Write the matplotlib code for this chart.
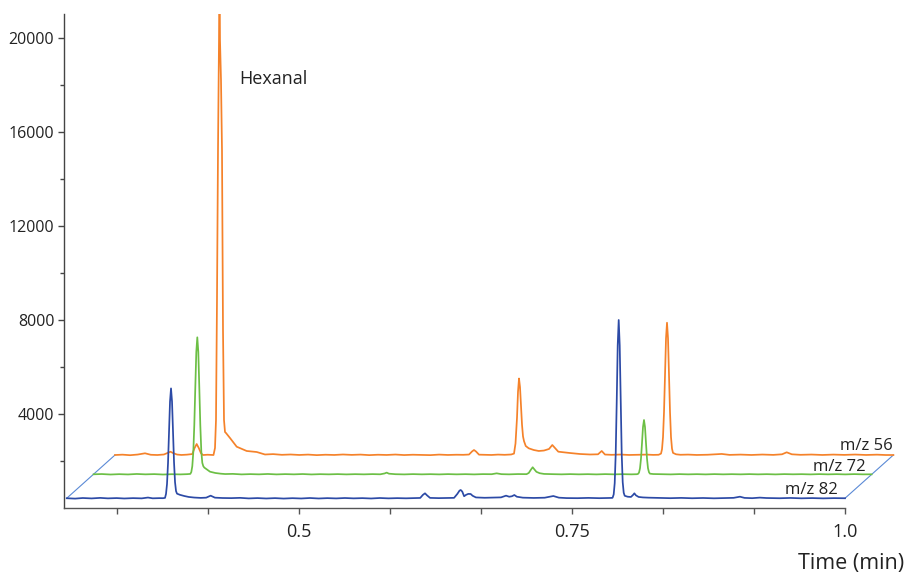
import matplotlib
matplotlib.use("Agg")
import matplotlib.pyplot as plt
import numpy as np

plt.rcParams['font.family'] = ['Open Sans', 'DejaVu Sans']

# ---------------- data (time in min, intensity in counts) ----------------
blue_points = [  # m/z 82
    (0.2873, 415), (0.2950, 400), (0.3020, 425), (0.3100, 408), (0.3180, 430), (0.3250, 410),
    (0.3330, 422), (0.3400, 405), (0.3480, 420), (0.3560, 410), (0.3617, 445), (0.3660, 412),
    (0.3720, 420), (0.3755, 418),
    (0.37730, 430), (0.37822, 600), (0.37913, 1020), (0.38005, 1910), (0.38097, 3220),
    (0.38188, 4530), (0.38280, 5090), (0.38372, 4530), (0.38463, 3220), (0.38555, 1950),
    (0.38647, 1100), (0.38738, 720), (0.38830, 610), (0.3910, 560), (0.3950, 510),
    (0.3990, 470), (0.4040, 445), (0.4100, 430), (0.4150, 440), (0.4191, 525), (0.4230, 440),
    (0.4300, 425), (0.4380, 420), (0.4460, 432), (0.4540, 408), (0.4620, 422), (0.4700, 405),
    (0.4780, 420), (0.4860, 402), (0.4940, 418), (0.5020, 405), (0.5100, 425), (0.5180, 405),
    (0.5260, 420), (0.5340, 408), (0.5420, 425), (0.5500, 410), (0.5580, 420), (0.5660, 405),
    (0.5740, 425), (0.5820, 410), (0.5900, 420), (0.5980, 412), (0.6060, 422), (0.6110, 428),
    (0.6135, 560), (0.6154, 625), (0.6172, 540), (0.6200, 430), (0.6280, 420), (0.6360, 428),
    (0.6420, 432), (0.6450, 600), (0.6470, 740), (0.6481, 766), (0.6495, 700), (0.6512, 500),
    (0.6530, 560), (0.6550, 600), (0.6572, 596), (0.6590, 520), (0.6620, 450), (0.6700, 435),
    (0.6780, 442), (0.6850, 452), (0.6896, 525), (0.6925, 480), (0.6950, 500), (0.6972, 553),
    (0.6995, 480), (0.7050, 440), (0.7150, 428), (0.7250, 438), (0.7329, 510), (0.7380, 440),
    (0.7450, 422), (0.7550, 418), (0.7650, 430), (0.7750, 418), (0.7850, 425), (0.7870, 430),
    (0.78728, 450), (0.78819, 580), (0.78911, 1060), (0.79002, 2300), (0.79094, 4500),
    (0.79185, 6920), (0.79277, 8000), (0.79369, 6920), (0.79460, 4500), (0.79552, 2300),
    (0.79643, 1100), (0.79735, 650), (0.79826, 520), (0.8010, 480), (0.8040, 470),
    (0.8060, 560), (0.8071, 625), (0.8085, 540), (0.8110, 470), (0.8150, 450), (0.8200, 440),
    (0.8300, 428), (0.8400, 418), (0.8500, 430), (0.8600, 415), (0.8700, 426), (0.8800, 412),
    (0.8900, 422), (0.8980, 432), (0.9038, 481), (0.9080, 430), (0.9150, 418), (0.9220, 442),
    (0.9280, 425), (0.9400, 415), (0.9500, 428), (0.9600, 412), (0.9700, 422), (0.9800, 410),
    (0.9900, 420), (1.0000, 415),
]

green_points = [  # m/z 72
    (0.2875, 414), (0.2950, 425), (0.3030, 405), (0.3110, 420), (0.3190, 408), (0.3270, 428),
    (0.3350, 412), (0.3430, 422), (0.3510, 405), (0.3590, 418), (0.3670, 410), (0.3730, 420),
    (0.37606, 430), (0.37698, 510), (0.37789, 760), (0.37881, 1360), (0.37972, 2510),
    (0.38064, 4115), (0.38155, 5620), (0.38247, 6244), (0.38339, 5620), (0.38430, 4115),
    (0.38522, 2510), (0.38613, 1400), (0.38705, 900), (0.38796, 760), (0.38888, 700),
    (0.3941, 525), (0.3990, 470), (0.4040, 440), (0.4080, 425), (0.4150, 432), (0.4230, 410),
    (0.4310, 422), (0.4390, 412), (0.4470, 428), (0.4550, 410), (0.4630, 422), (0.4710, 412),
    (0.4790, 425), (0.4870, 408), (0.4950, 420), (0.5030, 412), (0.5110, 422), (0.5190, 410),
    (0.5270, 420), (0.5350, 412), (0.5430, 422), (0.5500, 414), (0.5540, 450), (0.5559, 485),
    (0.5580, 440), (0.5640, 418), (0.5720, 410), (0.5800, 422), (0.5880, 412), (0.5960, 420),
    (0.6040, 410), (0.6120, 422), (0.6200, 412), (0.6280, 420), (0.6360, 410), (0.6440, 422),
    (0.6520, 418), (0.6566, 455), (0.6610, 420), (0.6680, 412), (0.6760, 424), (0.6840, 420),
    (0.6860, 470), (0.6878, 600), (0.6896, 714), (0.6912, 620), (0.6930, 520), (0.6960, 460),
    (0.7000, 430), (0.7080, 420), (0.7160, 412), (0.7240, 422), (0.7320, 412), (0.7400, 420),
    (0.7480, 410), (0.7560, 422), (0.7640, 412), (0.7720, 420), (0.7800, 412), (0.7850, 418),
    (0.78603, 430), (0.78695, 485), (0.78786, 665), (0.78878, 1080), (0.78970, 1740),
    (0.79061, 2425), (0.79153, 2725), (0.79245, 2425), (0.79336, 1740), (0.79428, 1080),
    (0.79519, 670), (0.79611, 500), (0.79703, 440), (0.8000, 425), (0.8080, 418),
    (0.8160, 410), (0.8240, 422), (0.8320, 412), (0.8400, 420), (0.8480, 410), (0.8560, 422),
    (0.8640, 412), (0.8720, 420), (0.8800, 412), (0.8880, 422), (0.8960, 412), (0.9040, 420),
    (0.9120, 410), (0.9200, 422), (0.9280, 414), (0.9360, 420), (0.9440, 410), (0.9520, 422),
    (0.9600, 412), (0.9680, 420), (0.9760, 410), (0.9840, 422), (0.9920, 412), (1.0000, 414),
]

orange_points = [  # m/z 56
    (0.2872, 410), (0.2940, 425), (0.3010, 402), (0.3080, 430), (0.3147, 483), (0.3200, 420),
    (0.3260, 410), (0.3320, 432), (0.3355, 500), (0.3380, 551), (0.3405, 490), (0.3440, 430),
    (0.3480, 412), (0.3530, 425), (0.3580, 450), (0.3600, 700), (0.3620, 878), (0.3640, 700),
    (0.3660, 480), (0.3678, 410), (0.3720, 422), (0.3774, 410),
    (0.37877, 708), (0.37969, 1900), (0.38060, 7006), (0.38152, 13389), (0.38244, 18070),
    (0.38290, 21500), (0.38335, 18070), (0.38427, 16370), (0.38518, 13389), (0.38610, 5729),
    (0.38702, 1900), (0.38793, 1389), (0.38885, 1346), (0.39251, 1134), (0.39865, 763),
    (0.40780, 581), (0.41696, 538), (0.42456, 432), (0.4320, 448), (0.4400, 418),
    (0.4480, 432), (0.4560, 412), (0.4640, 428), (0.4720, 405), (0.4800, 422), (0.4880, 412),
    (0.4960, 432), (0.5040, 415), (0.5120, 428), (0.5200, 405), (0.5280, 422), (0.5360, 412),
    (0.5440, 430), (0.5520, 408), (0.5600, 422), (0.5680, 415), (0.5760, 405), (0.5840, 428),
    (0.5920, 412), (0.6000, 422), (0.6060, 418),
    (0.61138, 430), (0.61413, 560), (0.61596, 623), (0.61779, 560), (0.62054, 425),
    (0.6260, 420), (0.6320, 412), (0.6380, 428), (0.6440, 418), (0.6500, 432),
    (0.65259, 470), (0.65396, 900), (0.65534, 2000), (0.65625, 3100), (0.65717, 3666),
    (0.65809, 3300), (0.65900, 2500), (0.65992, 1700), (0.66084, 1200), (0.66175, 1000),
    (0.66334, 793), (0.66609, 695), (0.67067, 623), (0.67525, 581), (0.68000, 600),
    (0.68464, 666), (0.68766, 836), (0.69013, 708), (0.69316, 551), (0.70387, 495),
    (0.71303, 453), (0.72219, 432), (0.72951, 440), (0.73290, 581), (0.73592, 430),
    (0.7420, 418), (0.7500, 430), (0.7580, 412), (0.7660, 422), (0.7740, 428), (0.7800, 415),
    (0.7850, 420),
    (0.78721, 470), (0.78813, 657), (0.78904, 1172), (0.78996, 2238), (0.79087, 3825),
    (0.79179, 5378), (0.79270, 6040), (0.79362, 5378), (0.79453, 3825), (0.79545, 2238),
    (0.79636, 1172), (0.79728, 680), (0.79819, 500), (0.8010, 440), (0.8050, 420),
    (0.8120, 428), (0.8200, 412), (0.8300, 422), (0.8428, 455), (0.8500, 415), (0.8600, 428),
    (0.8700, 412), (0.8800, 430), (0.8900, 415), (0.8980, 440), (0.9023, 525), (0.9070, 440),
    (0.9150, 418), (0.9250, 430), (0.9350, 412), (0.9450, 428), (0.9550, 415), (0.9650, 430),
    (0.9750, 412), (0.9850, 425), (0.9930, 410), (1.0000, 410),
]

series_labels = ["m/z 82", "m/z 72", "m/z 56"]
peak_label = "Hexanal"
x_tick_values = [4/12, 5/12, 6/12, 7/12, 8/12, 9/12, 10/12, 11/12, 12/12]
x_tick_labels = ["", "", "0.5", "", "", "0.75", "", "", "1.0"]
y_major = [4000, 8000, 12000, 16000, 20000]
y_minor = [2000, 6000, 10000, 14000, 18000]

# ---------------- style / layout ----------------
W, H = 907, 576
fig = plt.figure(figsize=(W/100, H/100), dpi=100)
ax = fig.add_axes([64/W, 1-508/H, (897-64)/W, (508-14)/H])

# pseudo-3D offsets (time shift, intensity shift) for each trace
shifts = [(0.0, 0.0), (0.0244, 1020.0), (0.0443, 1845.0)]
colors = ["#2c4aa6", "#6cbf45", "#f5822a"]
zorders = [5, 4, 3]
floor_color = "#5b8ad6"

all_points = [blue_points, green_points, orange_points]
ends = []
for pts, (dx, dy), c, z in zip(all_points, shifts, colors, zorders):
    t = np.array([p[0] for p in pts]) + dx
    v = np.array([p[1] for p in pts]) + dy
    ax.plot(t, v, color=c, lw=1.25, zorder=z, solid_joinstyle='round')
    ends.append(((t[0], v[0]), (t[-1], v[-1])))

# floor edges (connect first/last points of front and back traces)
ax.plot([ends[0][0][0], ends[2][0][0]], [ends[0][0][1], ends[2][0][1]],
        color=floor_color, lw=0.8, zorder=2)
ax.plot([ends[0][1][0], ends[2][1][0]], [ends[0][1][1], ends[2][1][1]],
        color=floor_color, lw=0.8, zorder=2)

xmin = 0.5 - (299-64)/1092
xmax = 0.5 + (897-299)/1092
ax.set_xlim(xmin, xmax)
ax.set_ylim(0, (508-14)/94*4000)

ax.spines['top'].set_visible(False)
ax.spines['right'].set_visible(False)
ax.spines['bottom'].set_bounds(xmin, 1.0)
ax.spines['left'].set_color('#444444')
ax.spines['bottom'].set_color('#555555')
ax.spines['left'].set_linewidth(1.0)
ax.spines['bottom'].set_linewidth(1.0)

ax.set_xticks(x_tick_values)
ax.set_xticklabels(x_tick_labels)
ax.set_yticks(y_major)
ax.set_yticklabels([str(v) for v in y_major])
ax.set_yticks(y_minor, minor=True)
ax.tick_params(axis='x', direction='out', length=4.5, width=1.0, color='#555555',
               labelsize=13, pad=6, labelcolor='#222222')
ax.tick_params(axis='y', which='major', direction='out', length=4, width=1.0,
               color='#444444', labelsize=11.5, pad=3, labelcolor='#222222')
ax.tick_params(axis='y', which='minor', direction='out', length=3, width=1.0,
               color='#444444')

# labels
label_pos = [(0.99313, 596), (1.01877, 1574), (1.04396, 2489)]
for lab, (lx, ly) in zip(series_labels, label_pos):
    ax.text(lx, ly, lab, ha='right', va='baseline', fontsize=12, color='#222222', zorder=6)

ax.text(0.44505, 18043, peak_label, ha='left', va='baseline', fontsize=13, color='#222222')

fig.text(904/W, 1-563/H, "Time (min)", ha='right', va='center', fontsize=15.5, color='#222222')

fig.savefig("out.png", dpi=100)
